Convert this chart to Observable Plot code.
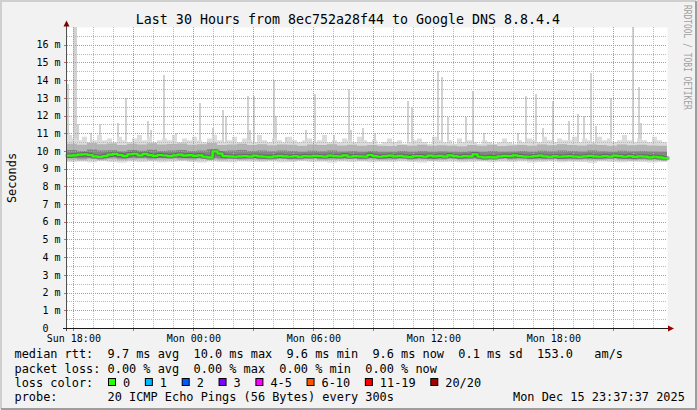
<!DOCTYPE html>
<html><head><meta charset="utf-8">
<script src="https://cdn.jsdelivr.net/npm/d3@7"></script>
<script src="https://cdn.jsdelivr.net/npm/@observablehq/plot@0.6"></script>
<style>
html,body{margin:0;padding:0;background:#f2f2f2;}
svg{display:block}
</style></head><body>
<script>
const MONO = "'DejaVu Sans Mono', monospace";

// ---- time window (UTC used as wall clock) ----
const windowStart = "2025-12-14T17:41Z";
const windowEnd = "2025-12-15T23:41Z";

// ---- median RTT (ms), one value per 15 minutes ----
const medianRtt = [
  9.76,9.78,9.82,9.84,9.80,9.72,9.69,9.74,9.82,9.86,
  9.80,9.74,9.84,9.87,9.78,9.86,9.79,9.75,9.80,9.77,
  9.73,9.78,9.82,9.76,9.79,9.75,9.78,9.70,9.66,10.00,
  9.88,9.74,9.72,9.70,9.72,9.73,9.71,9.76,9.72,9.70,
  9.68,9.72,9.75,9.72,9.70,9.73,9.69,9.74,9.72,9.75,
  9.73,9.71,9.76,9.74,9.72,9.78,9.70,9.74,9.72,9.71,
  9.80,9.74,9.70,9.73,9.76,9.72,9.75,9.71,9.68,9.73,
  9.74,9.70,9.76,9.72,9.75,9.71,9.78,9.73,9.70,9.74,
  9.72,9.84,9.70,9.66,9.68,9.67,9.72,9.75,9.73,9.78,
  9.74,9.71,9.70,9.73,9.76,9.72,9.69,9.73,9.70,9.72,
  9.74,9.71,9.69,9.72,9.75,9.72,9.70,9.74,9.71,9.76,
  9.73,9.70,9.74,9.69,9.72,9.71,9.67,9.70,9.66,9.62
];

// ---- smoke: upper edge of the lightest layer, per 15 minutes ----
const smokeTop = [
  10.9,10.7,10.6,10.8,10.5,10.6,10.9,10.6,10.7,10.5,10.8,10.6,10.5,10.7,10.9,10.6,10.8,10.5,10.6,10.7,
  10.6,10.9,10.5,10.7,10.6,10.8,10.6,10.5,10.7,10.9,10.6,10.5,10.6,10.8,10.5,10.7,10.6,10.5,10.9,10.6,
  10.5,10.7,10.6,10.5,10.8,10.6,10.5,10.6,10.7,10.5,10.6,10.9,10.5,10.6,10.5,10.7,10.6,10.5,10.8,10.6,
  10.5,10.6,10.4,10.5,10.7,10.5,10.6,10.4,10.5,10.6,10.7,10.5,10.4,10.8,10.6,10.5,10.6,10.4,10.7,10.5,
  10.6,10.5,10.4,10.6,10.5,10.4,10.5,10.7,10.5,10.4,10.6,10.5,10.7,10.6,10.5,10.8,10.6,10.5,10.7,10.6,
  10.6,10.8,10.5,10.7,10.6,10.5,10.8,10.6,10.7,10.5,10.6,10.9,10.6,10.5,10.7,10.6,10.5,10.8,10.6,10.5
];
// ---- smoke layers per 30 minutes ----
const smokeBottom = [
  9.38,9.40,9.36,9.42,9.38,9.35,9.40,9.37,9.41,9.36,9.39,9.42,9.37,9.35,9.40,9.38,9.36,9.41,9.39,9.37,
  9.40,9.36,9.38,9.42,9.37,9.39,9.35,9.40,9.38,9.41,9.36,9.39,9.37,9.40,9.38,9.35,9.41,9.37,9.39,9.36,
  9.38,9.40,9.36,9.39,9.37,9.41,9.35,9.38,9.40,9.36,9.39,9.37,9.34,9.40,9.38,9.36,9.39,9.37,9.35,9.38
];
const midLow = [
  9.50,9.48,9.52,9.49,9.51,9.47,9.50,9.52,9.48,9.50,9.51,9.49,9.47,9.52,9.50,9.48,9.51,9.49,9.50,9.47,
  9.49,9.52,9.48,9.50,9.51,9.47,9.49,9.50,9.52,9.48,9.50,9.47,9.49,9.51,9.48,9.50,9.46,9.49,9.51,9.48,
  9.50,9.47,9.49,9.52,9.48,9.50,9.47,9.49,9.51,9.46,9.48,9.50,9.47,9.49,9.51,9.48,9.46,9.49,9.47,9.48
];
const midHigh = [
  10.40,10.35,10.45,10.38,10.42,10.33,10.40,10.36,10.44,10.37,10.39,10.42,10.35,10.38,10.45,10.33,10.36,10.40,10.34,10.38,
  10.32,10.37,10.35,10.30,10.36,10.33,10.38,10.31,10.35,10.29,10.34,10.30,10.28,10.33,10.30,10.35,10.29,10.32,10.30,10.27,
  10.33,10.30,10.35,10.28,10.31,10.34,10.30,10.36,10.32,10.38,10.34,10.31,10.37,10.33,10.30,10.36,10.32,10.35,10.31,10.30
];
const coreLow = [
  9.60,9.58,9.62,9.59,9.61,9.57,9.60,9.62,9.58,9.60,9.61,9.59,9.58,9.62,9.60,9.58,9.61,9.59,9.60,9.57,
  9.59,9.61,9.58,9.60,9.61,9.57,9.59,9.60,9.62,9.58,9.60,9.57,9.59,9.61,9.58,9.60,9.56,9.59,9.61,9.58,
  9.60,9.57,9.59,9.62,9.58,9.60,9.57,9.59,9.61,9.56,9.58,9.60,9.57,9.59,9.61,9.58,9.56,9.59,9.57,9.56
];
const coreHigh = [
  10.05,10.00,10.08,10.02,10.04,9.98,10.06,10.01,10.07,10.00,10.03,10.06,9.99,10.02,10.10,10.00,10.03,10.05,9.99,10.02,
  9.98,10.02,10.00,9.96,10.01,9.98,10.03,9.97,10.00,9.95,9.99,9.96,9.95,9.99,9.96,10.00,9.95,9.98,9.96,9.94,
  9.98,9.96,10.00,9.95,9.97,10.00,9.96,10.01,9.98,10.03,9.99,9.97,10.02,9.98,9.96,10.01,9.98,10.00,9.97,9.95
];

// ---- max-ping spikes (5-minute samples) ----
const spikeTimes = [
  "2025-12-14T17:41Z","2025-12-14T18:00Z","2025-12-14T18:05Z","2025-12-14T18:10Z","2025-12-14T18:50Z",
  "2025-12-14T19:17Z","2025-12-14T20:11Z","2025-12-14T20:35Z","2025-12-14T21:41Z","2025-12-14T21:50Z",
  "2025-12-14T22:29Z","2025-12-14T23:05Z","2025-12-15T00:17Z","2025-12-15T00:56Z","2025-12-15T01:26Z",
  "2025-12-15T01:35Z","2025-12-15T02:41Z","2025-12-15T02:46Z","2025-12-15T02:59Z","2025-12-15T03:59Z",
  "2025-12-15T04:05Z","2025-12-15T04:35Z","2025-12-15T05:35Z","2025-12-15T06:02Z","2025-12-15T06:59Z",
  "2025-12-15T07:44Z","2025-12-15T07:50Z","2025-12-15T08:26Z","2025-12-15T09:02Z","2025-12-15T10:41Z",
  "2025-12-15T10:53Z","2025-12-15T12:11Z","2025-12-15T12:23Z","2025-12-15T12:41Z","2025-12-15T13:35Z",
  "2025-12-15T13:56Z","2025-12-15T14:29Z","2025-12-15T16:11Z","2025-12-15T16:35Z","2025-12-15T17:05Z",
  "2025-12-15T17:26Z","2025-12-15T17:56Z","2025-12-15T18:44Z","2025-12-15T19:11Z","2025-12-15T19:29Z",
  "2025-12-15T19:50Z","2025-12-15T20:05Z","2025-12-15T20:50Z","2025-12-15T21:56Z","2025-12-15T22:14Z",
  "2025-12-15T22:20Z"
];
const spikeValues = [
  13.8,17.5,17.5,11.5,11.0,
  11.5,11.6,13.0,11.7,11.2,
  14.3,11.0,12.7,11.3,12.3,
  12.0,13.1,11.2,13.1,14.0,
  12.0,10.8,11.2,13.2,10.9,
  13.5,11.2,11.3,11.0,12.8,
  12.5,14.5,14.2,11.9,11.9,
  13.4,11.0,11.0,13.1,13.2,
  11.3,12.8,11.7,12.1,12.0,
  14.4,11.4,13.0,17.5,13.6,
  11.6
];

// ---- axes ----
const yTickValues = [0,1,2,3,4,5,6,7,8,9,10,11,12,13,14,15,16];
const xTickTimes = ["2025-12-14T18:00Z","2025-12-15T00:00Z","2025-12-15T06:00Z","2025-12-15T12:00Z","2025-12-15T18:00Z"];

// ---- texts ----
const titleText = "Last 30 Hours from 8ec752a28f44 to Google DNS 8.8.4.4";
const yLabel = "Seconds";
const watermark = "RRDTOOL / TOBI OETIKER";
const rttStats = ["9.7", "10.0", "9.6", "9.6", "0.1", "153.0"];
const lossStats = ["0.00", "0.00", "0.00", "0.00"];
const lossLabels = ["0", "1", "2", "3", "4-5", "6-10", "11-19", "20/20"];
const lossColors = ["#26ff00", "#00b8ff", "#0059ff", "#7e00ff", "#ff00ff", "#ff5500", "#ff0000", "#a10000"];
const probeText = "20 ICMP Echo Pings (56 Bytes) every 300s";
const stampText = "Mon Dec 15 23:37:37 2025";

// ---- build tables ----
const t0 = new Date(windowStart), t1 = new Date(windowEnd);
const addMin = (d, m) => new Date(+d + m * 60000);
const medianRows = medianRtt.map((v, i) => ({t: addMin(t0, i * 15), v}));
medianRows.push({t: t1, v: medianRtt[medianRtt.length - 1]});
const outerRows = smokeTop.map((hi, i) => ({t: addMin(t0, i * 15), lo: smokeBottom[Math.floor(i / 2)], hi}));
outerRows.push({t: t1, lo: smokeBottom[smokeBottom.length - 1], hi: smokeTop[smokeTop.length - 1]});
const midRows = midLow.map((lo, i) => ({t: addMin(t0, i * 30), lo, hi: midHigh[i]}));
midRows.push({t: t1, lo: midLow[midLow.length - 1], hi: midHigh[midHigh.length - 1]});
const coreRows = coreLow.map((lo, i) => ({t: addMin(t0, i * 30), lo, hi: coreHigh[i]}));
coreRows.push({t: t1, lo: coreLow[coreLow.length - 1], hi: coreHigh[coreHigh.length - 1]});
const spikeRows = spikeTimes.map((s, i) => ({t: new Date(s), t2: addMin(new Date(s), 6), base: 10.0, v: spikeValues[i]}));

const hourLines = d3.utcHour.range(new Date("2025-12-14T18:00Z"), t1);
const minorV = hourLines.filter(d => d.getUTCHours() % 3 !== 0);
const majorV = hourLines.filter(d => d.getUTCHours() % 3 === 0);
const minorH = d3.range(0.5, 17, 1);
const majorH = d3.range(1, 17, 1);

const chart = Plot.plot({
  width: 697, height: 410,
  marginTop: 27, marginRight: 30, marginBottom: 82, marginLeft: 67,
  style: {background: "#f2f2f2", fontFamily: MONO, color: "#000", overflow: "visible"},
  x: {type: "utc", domain: [t0, t1]},
  y: {domain: [0, 17]},
  marks: [
    Plot.frame({fill: "#ffffff", stroke: "none"}),
    Plot.rect(spikeRows, {x1: "t", x2: "t2", y1: "base", y2: "v", fill: "#d2d2d2", clip: true, shapeRendering: "crispEdges"}),
    Plot.areaY(outerRows, {x: "t", y1: "lo", y2: "hi", curve: "step-after", fill: "#dcdcdc"}),
    Plot.areaY(midRows, {x: "t", y1: "lo", y2: "hi", curve: "step-after", fill: "#b4b4b4"}),
    Plot.areaY(coreRows, {x: "t", y1: "lo", y2: "hi", curve: "step-after", fill: "#858585"}),
    Plot.ruleX(minorV, {stroke: "#b8b8b8", strokeDasharray: "1,1", shapeRendering: "crispEdges"}),
    Plot.ruleY(minorH, {stroke: "#b8b8b8", strokeDasharray: "1,1", shapeRendering: "crispEdges"}),
    Plot.ruleX(majorV, {stroke: "#ec8080", strokeDasharray: "1,1", shapeRendering: "crispEdges"}),
    Plot.ruleY(majorH, {stroke: "#ec8080", strokeDasharray: "1,1", shapeRendering: "crispEdges"}),
    Plot.line(medianRows, {x: "t", y: "v", curve: "step-after", stroke: "#4a4a4a", strokeWidth: 4.5, strokeOpacity: 0.45}),
    Plot.line(medianRows, {x: "t", y: "v", curve: "step-after", stroke: "#26ff00", strokeWidth: 2.2}),
    Plot.axisY(yTickValues, {tickSize: 0, tickPadding: 7, fontSize: 10, label: null,
      tickFormat: d => d === 0 ? "0\u00a0\u00a0" : `${d} m`}),
    Plot.axisX(xTickTimes.map(s => new Date(s)), {tickSize: 0, tickPadding: 6, fontSize: 10, label: null,
      tickFormat: d3.utcFormat("%a %H:%M")})
  ]
});
document.body.appendChild(chart);

// ---- rrdtool-like decorations and legend ----
const svg = d3.select(chart);
const X = chart.scale("x"), Y = chart.scale("y");
const g = svg.append("g").attr("font-family", MONO).attr("text-anchor", "start");

// ticks
g.selectAll(".yt").data(yTickValues.slice(1)).join("line")
  .attr("x1", 64).attr("x2", 67).attr("y1", d => Math.round(Y.apply(d)) + 0.5).attr("y2", d => Math.round(Y.apply(d)) + 0.5)
  .attr("stroke", "#e06060");
g.selectAll(".xt").data(majorV).join("line")
  .attr("x1", d => Math.round(X.apply(d)) + 0.5).attr("x2", d => Math.round(X.apply(d)) + 0.5)
  .attr("y1", 328).attr("y2", 331).attr("stroke", "#e06060");

// axes lines + arrows
g.append("line").attr("x1", 66.5).attr("x2", 66.5).attr("y1", 331).attr("y2", 25).attr("stroke", "#505050");
g.append("path").attr("d", "M63.5,26.5L69.5,26.5L66.5,20.5Z").attr("fill", "#7f0000");
g.append("line").attr("x1", 63).attr("x2", 669).attr("y1", 328.5).attr("y2", 328.5).attr("stroke", "#1a1a1a");
g.append("path").attr("d", "M668,325.5L668,331.5L674,328.5Z").attr("fill", "#9a0000");

// title
g.append("text").attr("x", 348).attr("y", 24).attr("text-anchor", "middle")
  .attr("font-size", 13.3).attr("fill", "#000").text(titleText);
// y label
g.append("text").attr("transform", "translate(15.5,178) rotate(-90)").attr("text-anchor", "middle")
  .attr("font-size", 11.9).attr("fill", "#000").text(yLabel);
// watermark
g.append("text").attr("transform", "translate(684,5) rotate(90) scale(0.72,1)").attr("text-anchor", "start")
  .attr("font-size", 11).attr("fill", "#a0a0a0").text(watermark);

// legend lines
const pre = sel => sel.attr("xml:space", "preserve").style("white-space", "pre");
const line1 = `median rtt:  ${rttStats[0]} ms avg  ${rttStats[1]} ms max  ${rttStats[2]} ms min  ${rttStats[3]} ms now  ${rttStats[4]} ms sd  ${rttStats[5]}   am/s`;
const line2 = `packet loss: ${lossStats[0]} % avg  ${lossStats[1]} % max  ${lossStats[2]} % min  ${lossStats[3]} % now`;
const legendFont = 11.9;
[[line1, 358], [line2, 372.5], ["loss color:", 386.5], ["probe:       " + probeText, 400.5]].forEach(([s, y]) => {
  g.append("text").attr("x", 14.5).attr("y", y).attr("font-size", legendFont).attr("fill", "#000").call(pre).text(s);
});
g.append("text").attr("x", 513).attr("y", 400.5).attr("font-size", legendFont).attr("fill", "#000").call(pre).text(stampText);

let bx = 108;
lossLabels.forEach((lab, k) => {
  g.append("rect").attr("x", bx + 0.5).attr("y", 378.5).attr("width", 7).attr("height", 7)
    .attr("fill", lossColors[k]).attr("stroke", "#000").attr("stroke-width", 1);
  g.append("text").attr("x", bx + 15).attr("y", 386.5).attr("font-size", legendFont).attr("fill", "#000").text(lab);
  bx += lab.length * 7.15 + 29.7;
});

// outer frame (shade)
g.append("path").attr("d", "M1,409V1H696").attr("fill", "none").attr("stroke", "#cfcfcf").attr("stroke-width", 2);
g.append("path").attr("d", "M1,409H696V1").attr("fill", "none").attr("stroke", "#9e9e9e").attr("stroke-width", 2);
</script>
</body></html>
